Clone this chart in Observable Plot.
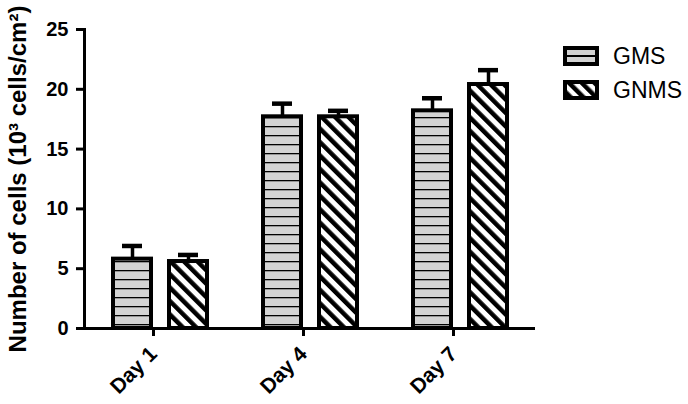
<!DOCTYPE html>
<html>
<head>
<meta charset="utf-8">
<script src="https://cdn.jsdelivr.net/npm/d3@7"></script>
<script src="https://cdn.jsdelivr.net/npm/@observablehq/plot@0.6"></script>
<style>
  body { margin: 0; background: #fff; font-family: "Liberation Sans", Arial, sans-serif; }
  #wrap { position: relative; width: 688px; height: 404px; }
  #legend { position: absolute; left: 563px; top: 39px; }
  .item { display: flex; align-items: center; height: 34px; font-size: 23px; color: #000; }
  .item svg { margin-right: 14px; flex: none; }
</style>
</head>
<body>
<div id="wrap">
  <div id="chart"></div>
  <div id="legend"></div>
</div>
<script>
// Data
const days = ["Day 1", "Day 4", "Day 7"];
const seriesNames = ["GMS", "GNMS"];
const gmsValues = [5.8, 17.7, 18.2];
const gmsErrors = [1.1, 1.1, 1.05];
const gnmsValues = [5.6, 17.7, 20.4];
const gnmsErrors = [0.55, 0.5, 1.2];
const yTicks = [0, 5, 10, 15, 20, 25];

const gms = days.map((d, i) => ({day: d, value: gmsValues[i], upper: gmsValues[i] + gmsErrors[i]}));
const gnms = days.map((d, i) => ({day: d, value: gnmsValues[i], upper: gnmsValues[i] + gnmsErrors[i]}));

const font = '"Liberation Sans", Arial, sans-serif';

const chart = Plot.plot({
  width: 688,
  height: 404,
  marginLeft: 84,
  marginRight: 153,
  marginTop: 29,
  marginBottom: 76,
  style: {fontFamily: font, color: "#000", background: "#fff", overflow: "visible"},
  x: {domain: days, padding: 0, axis: null},
  y: {domain: [0, 25], axis: null},
  marks: [
    // error stems
    Plot.ruleX(gms, {x: "day", y1: "value", y2: "upper", dx: -28, stroke: "#000", strokeWidth: 3.5}),
    Plot.ruleX(gnms, {x: "day", y1: "value", y2: "upper", dx: 28, stroke: "#000", strokeWidth: 3.5}),
    // caps
    Plot.tickY(gms, {x: "day", y: "upper", insetLeft: 37, insetRight: 93, stroke: "#000", strokeWidth: 4.5}),
    Plot.tickY(gnms, {x: "day", y: "upper", insetLeft: 93, insetRight: 37, stroke: "#000", strokeWidth: 4.5}),
    // bars
    Plot.barY(gms, {x: "day", y: "value", insetLeft: 28, insetRight: 84, fill: "url(#patGMS)", stroke: "#000", strokeWidth: 4}),
    Plot.barY(gnms, {x: "day", y: "value", insetLeft: 84, insetRight: 28, fill: "url(#patGNMS)", stroke: "#000", strokeWidth: 4}),
    // axes
    Plot.ruleY([0], {stroke: "#000", strokeWidth: 3}),
    Plot.frame({anchor: "left", stroke: "#000", strokeWidth: 3}),
    Plot.axisY({ticks: yTicks, tickSize: 8, tickPadding: 8, strokeWidth: 3, fontSize: 20, fontWeight: "bold",
      label: "Number of cells (10³ cells/cm²)", labelAnchor: "center", labelArrow: "none", labelOffset: 76}),
    Plot.axisX({tickSize: 8, tickPadding: 14, dx: -7, strokeWidth: 3, tickRotate: -45, fontSize: 21, fontWeight: "bold", label: null})
  ]
});

// pattern definitions
const defs = d3.select(chart).insert("defs", ":first-child");
const p1 = defs.append("pattern").attr("id", "patGMS").attr("patternUnits", "userSpaceOnUse")
  .attr("width", 10).attr("height", 9);
p1.append("rect").attr("width", 10).attr("height", 9).attr("fill", "#d3d3d3");
p1.append("line").attr("x1", 0).attr("x2", 10).attr("y1", 0.5).attr("y2", 0.5).attr("stroke", "#000").attr("stroke-width", 1.6);
const p2 = defs.append("pattern").attr("id", "patGNMS").attr("patternUnits", "userSpaceOnUse")
  .attr("width", 9.5).attr("height", 9.5).attr("patternTransform", "rotate(-45)");
p2.append("rect").attr("width", 9.5).attr("height", 9.5).attr("fill", "#fff");
p2.append("rect").attr("width", 4.5).attr("height", 9.5).attr("fill", "#000");

// text styling
const svgSel = d3.select(chart);
svgSel.selectAll("[aria-label='y-axis label'] text").style("font-size", "24px").style("font-weight", "bold");

document.getElementById("chart").appendChild(chart);

// legend
const legend = d3.select("#legend");
seriesNames.forEach((name, i) => {
  const item = legend.append("div").attr("class", "item");
  const s = item.append("svg").attr("width", 36).attr("height", 20);
  const sd = s.append("defs");
  if (i === 0) {
    s.append("rect").attr("x", 2).attr("y", 2).attr("width", 32).attr("height", 16).attr("fill", "#d3d3d3").attr("stroke", "#000").attr("stroke-width", 4);
    s.append("line").attr("x1", 4).attr("x2", 32).attr("y1", 10).attr("y2", 10).attr("stroke", "#000").attr("stroke-width", 2);
  } else {
    const pp = sd.append("pattern").attr("id", "legGNMS").attr("patternUnits", "userSpaceOnUse")
      .attr("width", 9).attr("height", 9).attr("patternTransform", "rotate(-45)");
    pp.append("rect").attr("width", 9).attr("height", 9).attr("fill", "#fff");
    pp.append("rect").attr("width", 4.5).attr("height", 9).attr("fill", "#000");
    s.append("rect").attr("x", 2).attr("y", 2).attr("width", 32).attr("height", 16).attr("fill", "url(#legGNMS)").attr("stroke", "#000").attr("stroke-width", 4);
  }
  item.append("span").text(name);
});
</script>
</body>
</html>
